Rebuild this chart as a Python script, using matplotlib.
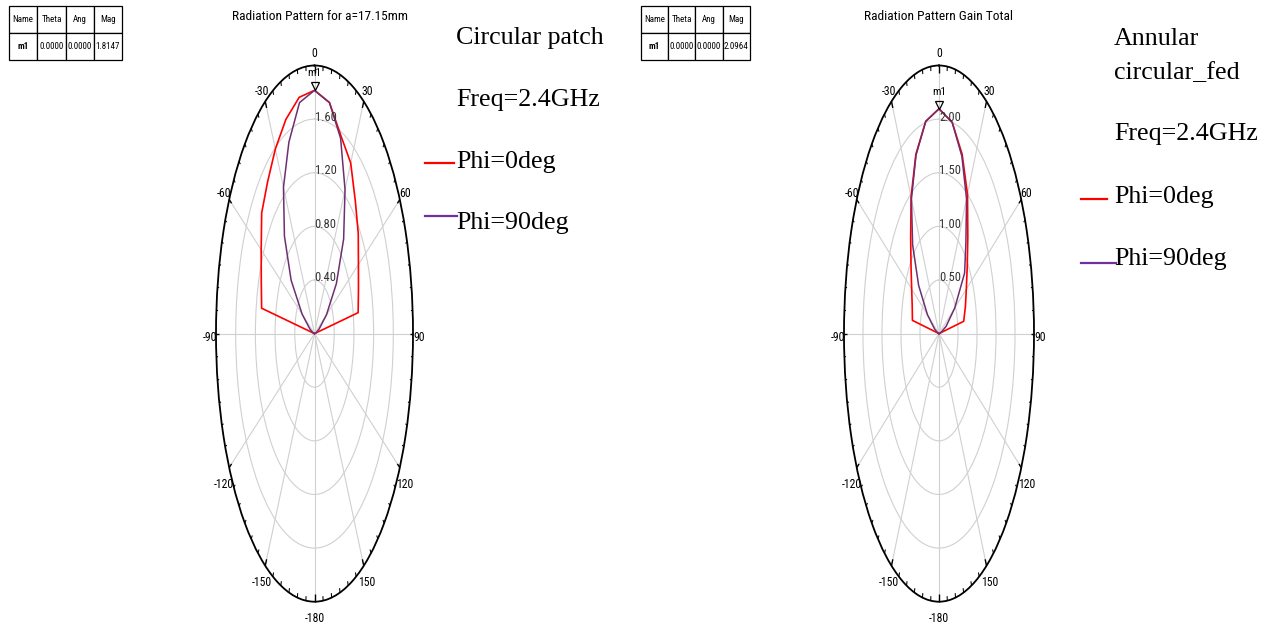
import numpy as np
import matplotlib
matplotlib.use("Agg")
import matplotlib.pyplot as plt
import matplotlib.transforms as mtransforms
from matplotlib import font_manager
from matplotlib.lines import Line2D

theta_deg = [-90, -80, -70, -60, -50, -40, -30, -20, -10, 0,
             10, 20, 30, 40, 50, 60, 70, 80, 90]

# patch circulaire a=17.15mm
patch_phi0 = [0.00, 1.09, 1.15, 1.25, 1.40, 1.48, 1.59, 1.70, 1.79, 1.8147,
              1.75, 1.57, 1.47, 1.29, 1.16, 1.03, 0.95, 0.90, 0.00]
patch_phi90 = [0.00, 0.03, 0.10, 0.29, 0.62, 0.95, 1.26, 1.52, 1.75, 1.8147,
               1.75, 1.55, 1.24, 0.92, 0.58, 0.28, 0.10, 0.03, 0.00]

# patch annulaire
annular_phi0 = [0.00, 0.71, 0.75, 0.83, 0.96, 1.16, 1.47, 1.78, 2.01, 2.0964,
                2.00, 1.78, 1.50, 1.18, 0.97, 0.83, 0.74, 0.66, 0.00]
annular_phi90 = [0.00, 0.03, 0.12, 0.35, 0.70, 1.08, 1.45, 1.77, 2.01, 2.0964,
                 2.00, 1.76, 1.45, 1.10, 0.88, 0.48, 0.20, 0.05, 0.00]

angle_ticks = [0, 30, 60, 90, 120, 150, 180, 210, 240, 270, 300, 330]
angle_labels = ['0', '30', '60', '90', '120', '150', '-180',
                '-150', '-120', '-90', '-60', '-30']

patch_rings = [0.4, 0.8, 1.2, 1.6]
patch_ring_labels = ['0.40', '0.80', '1.20', '1.60']
annular_rings = [0.5, 1.0, 1.5, 2.0]
annular_ring_labels = ['0.50', '1.00', '1.50', '2.00']

marker_cols = ['Name', 'Theta', 'Ang', 'Mag']
patch_marker = ['m1', '0.0000', '0.0000', '1.8147']
annular_marker = ['m1', '0.0000', '0.0000', '2.0964']

# === Polices ===
installed = {f.name for f in font_manager.fontManager.ttflist}
NARROW = next((n for n in ['Liberation Sans Narrow', 'Roboto Condensed', 'DejaVu Sans']
               if n in installed), 'DejaVu Sans')
SERIF = 'Liberation Serif'

RED = '#ff0000'
PURPLE_TRACE = '#6e2f72'
PURPLE_LEG = '#7030a0'

W, H = 1275, 632
fig = plt.figure(figsize=(W / 100, H / 100), dpi=100)


def px_rect(x0, y0, x1, y1):
    return [x0 / W, 1 - y1 / H, (x1 - x0) / W, (y1 - y0) / H]


def marker_table(rect, row):
    tax = fig.add_axes(rect)
    tax.axis('off')
    tbl = tax.table(cellText=[row], colLabels=marker_cols, cellLoc='center',
                    bbox=[0, 0, 1, 1])
    tbl.auto_set_font_size(False)
    for (r, c), cell in tbl.get_celld().items():
        cell.set_linewidth(0.9)
        cell.set_edgecolor('black')
        txt = cell.get_text()
        txt.set_fontsize(6.5)
        txt.set_family(NARROW)
        if r == 1 and c == 0:
            txt.set_fontweight('bold')


def draw_pattern(rect, rmax, rings, ring_labels, phi0, phi90, title, title_x):
    ax = fig.add_axes(rect, projection='polar')
    ax.set_theta_zero_location('N')
    ax.set_theta_direction(-1)
    ax.set_ylim(0, rmax)
    ax.set_aspect('auto')

    ax.set_xticks(np.deg2rad(angle_ticks))
    ax.set_xticklabels([])
    ax.set_yticks(rings)
    ax.set_yticklabels([])
    ax.grid(True, color='#d0d0d0', lw=0.8)
    ax.tick_params(axis='both', length=0)
    ax.spines['polar'].set_color('black')
    ax.spines['polar'].set_linewidth(1.3)

    # graduations intérieures tous les 5 degrés, plus longues tous les 30
    for a in range(0, 360, 5):
        t = np.deg2rad(a)
        k = 0.028 if a % 30 == 0 else 0.017
        ax.plot([t, t], [rmax, rmax * (1 - k)], color='black',
                lw=1.0 if a % 30 == 0 else 0.75,
                solid_capstyle='butt', clip_on=False)

    th = np.deg2rad(theta_deg)
    ax.plot(th, phi0, color=RED, lw=1.2)
    ax.plot(th, phi90, color=PURPLE_TRACE, lw=1.1)

    # étiquettes d'angle autour de l'ellipse
    for a, lbl in zip(angle_ticks, angle_labels):
        t = np.deg2rad(a)
        c = np.cos(t)
        dy = 12 * c if c > 0.01 else (-17 if c < -0.01 else -4)
        ax.annotate(lbl, xy=(t, rmax), xytext=(6 * np.sin(t), dy),
                    textcoords='offset pixels', ha='center', va='center',
                    fontsize=8.5, family=NARROW, annotation_clip=False)

    for r, lbl in zip(rings, ring_labels):
        ax.annotate(lbl, xy=(0, r), xytext=(0, 2), textcoords='offset pixels',
                    ha='left', va='center', fontsize=9, family=NARROW, color='#333333')

    # marqueur m1 au maximum
    peak = max(phi0)
    shift = mtransforms.offset_copy(ax.transData, fig=fig, y=4, units='dots')
    ax.plot([0], [peak], marker='v', ms=6, mfc='none', mec='black', mew=0.9,
            transform=shift, clip_on=False)
    ax.annotate('m1', xy=(0, peak), xytext=(0, 17), textcoords='offset pixels',
                ha='center', va='center', fontsize=8, family=NARROW)

    fig.text(title_x / W, 1 - 17 / H, title, ha='center', va='center',
             fontsize=9.6, family=NARROW)
    return ax


def legend_block(x, lines, red_seg, purple_seg):
    for txt, yb in lines:
        fig.text(x / W, 1 - yb / H, txt, ha='left', va='baseline',
                 fontsize=18.7, family=SERIF)
    for (x0, x1, y), col in ((red_seg, RED), (purple_seg, PURPLE_LEG)):
        fig.add_artist(Line2D([x0 / W, x1 / W], [1 - y / H, 1 - y / H],
                              color=col, lw=1.6, transform=fig.transFigure))


# === Patch circulaire ===
marker_table(px_rect(9, 6, 122, 60), patch_marker)
draw_pattern(px_rect(216, 65.5, 413, 601.7), 2.0, patch_rings, patch_ring_labels,
             patch_phi0, patch_phi90, 'Radiation Pattern for a=17.15mm', 319.5)
legend_block(456, [('Circular patch', 44), ('Freq=2.4GHz', 106),
                   ('Phi=0deg', 168), ('Phi=90deg', 229)],
             (425, 454, 163), (425, 457, 216))

# === Patch annulaire ===
marker_table(px_rect(641, 6, 750, 60), annular_marker)
draw_pattern(px_rect(844, 65.5, 1034, 601.7), 2.5, annular_rings, annular_ring_labels,
             annular_phi0, annular_phi90, 'Radiation Pattern Gain Total', 938)
legend_block(1114, [('Annular', 45), ('circular_fed', 79), ('Freq=2.4GHz', 140),
                    ('Phi=0deg', 203), ('Phi=90deg', 265)],
             (1081, 1107, 199), (1081, 1116, 263))

fig.savefig('out.png', dpi=100, facecolor='white')
